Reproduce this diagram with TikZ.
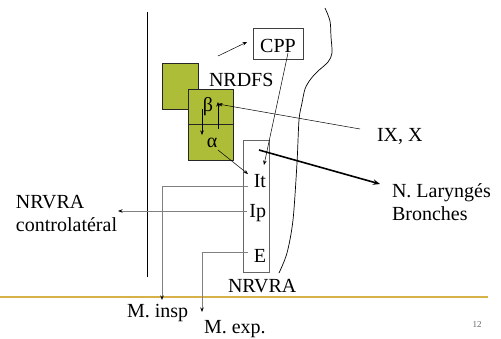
\documentclass[tikz,border=0pt]{standalone}
\usepackage{fontspec}
\setmainfont{Liberation Serif}
\usetikzlibrary{arrows.meta}
\definecolor{olivegreen}{RGB}{174,189,56}
\definecolor{rulegold}{RGB}{214,178,72}
\definecolor{linegray}{RGB}{128,128,128}
\tikzset{
  lbl/.style={font=\fontsize{20}{23}\selectfont, inner sep=0pt, outer sep=0pt},
  greenbox/.style={draw=black!85, fill=olivegreen, line width=0.7pt, inner sep=0pt},
  plainbox/.style={draw=black!75, line width=0.7pt, inner sep=0pt},
  thin/.style={line width=0.5pt, -{Stealth[length=4.5pt,width=3.5pt]}},
  grayarrow/.style={draw=linegray, line width=0.9pt, -{Stealth[length=4.5pt,width=3.5pt,color=black]}},
  thickarrow/.style={line width=1.6pt, -{Stealth[length=7pt,width=5.5pt]}},
}
\begin{document}
\begin{tikzpicture}[x=1pt,y=-1pt]
\useasboundingbox (0,0) rectangle (501,338);

% left vertical line
\coordinate (vl1) at (147,12);
\coordinate (vl2) at (147,277);
\draw[line width=1pt] (vl1) -- (vl2);

% irregular curve
\draw[line width=0.7pt] plot[smooth, tension=0.5] coordinates {(325,8) (330,21) (331,37) (332,53) (328,62) (317,72) (310,80) (305,89) (302,103) (299,120) (297,163) (293,220) (287,253) (279,273)};

% golden rule
\coordinate (r1) at (0,297);
\coordinate (r2) at (488,297);
\draw[rulegold, line width=1.8pt] (r1) -- (r2);

% boxes
\node[greenbox, minimum width=36pt, minimum height=46pt] (g1) at (180,86) {};
\node[greenbox, minimum width=45pt, minimum height=35pt] (gb) at (210.5,106.5) {};
\node[greenbox, minimum width=45pt, minimum height=36pt] (ga) at (210.5,142) {};
\node[lbl] (beta) at (208,107) {β};
\node[lbl] (alpha) at (212,143) {α};

\node[plainbox, minimum width=50pt, minimum height=31pt] (cppbox) at (278,43.5) {};
\node[lbl, anchor=base] (cpp) at (278,52) {CPP};

\node[plainbox, draw=black!60, minimum width=26pt, minimum height=132pt] (vra) at (256,206) {};
\node[lbl, anchor=base east] (it) at (266,187) {It};
\node[lbl, anchor=base east] (ip) at (266,217) {Ip};
\node[lbl, anchor=base east] (e) at (266,262) {E};

% labels
\node[lbl, anchor=base west] (nrdfs) at (209,86) {NRDFS};
\node[lbl, anchor=base west] (ixx) at (377,141) {IX, X};
\node[lbl, anchor=north west, align=left] (lar) at (392,183.3) {N. Laryngés\\Bronches};
\node[lbl, anchor=north west, align=left] (contra) at (16,195.7) {NRVRA\\controlatéral};
\node[lbl, anchor=base west] (nrvra) at (228,292) {NRVRA};
\node[lbl, anchor=base west] (minsp) at (127,317) {M. insp};
\node[lbl, anchor=base west] (mexp) at (204,333.5) {M. exp.};
\node[font=\fontsize{9}{10}\selectfont, text=black!60, inner sep=0pt, anchor=base] (pg) at (477,327) {12};

% connectors
\coordinate (a1) at (218,56);
\coordinate (a1e) at (247,42);
\draw[thin] (a1) -- (a1e);

\coordinate (cpps) at (288,53);
\coordinate (ite) at (264,165);
\draw[thin] (cpps) -- (ite);

\coordinate (ixs) at (360,129);
\coordinate (bete) at (218,104);
\draw[thin] (ixs) -- (bete);

\coordinate (dn1) at (202,109);
\coordinate (dn2) at (202,135);
\draw[thin] (dn1) -- (dn2);
\coordinate (up1) at (218,129);
\coordinate (up2) at (218,102);
\draw[thin] (up1) -- (up2);

\coordinate (als) at (218,150);
\coordinate (ale) at (248,174);
\draw[thin] (als) -- (ale);

\coordinate (lars) at (259,150);
\coordinate (lare) at (380,184);
\draw[thickarrow] (lars) -- (lare);

\coordinate (its) at (248,186);
\coordinate (inspe) at (162,300);
\draw[grayarrow] (its) -| (inspe);

\coordinate (ips) at (247,211);
\coordinate (ipe) at (118,211);
\draw[grayarrow] (ips) -- (ipe);

\coordinate (es) at (248,252);
\coordinate (expe) at (202,312);
\draw[grayarrow] (es) -| (expe);
\end{tikzpicture}
\end{document}
